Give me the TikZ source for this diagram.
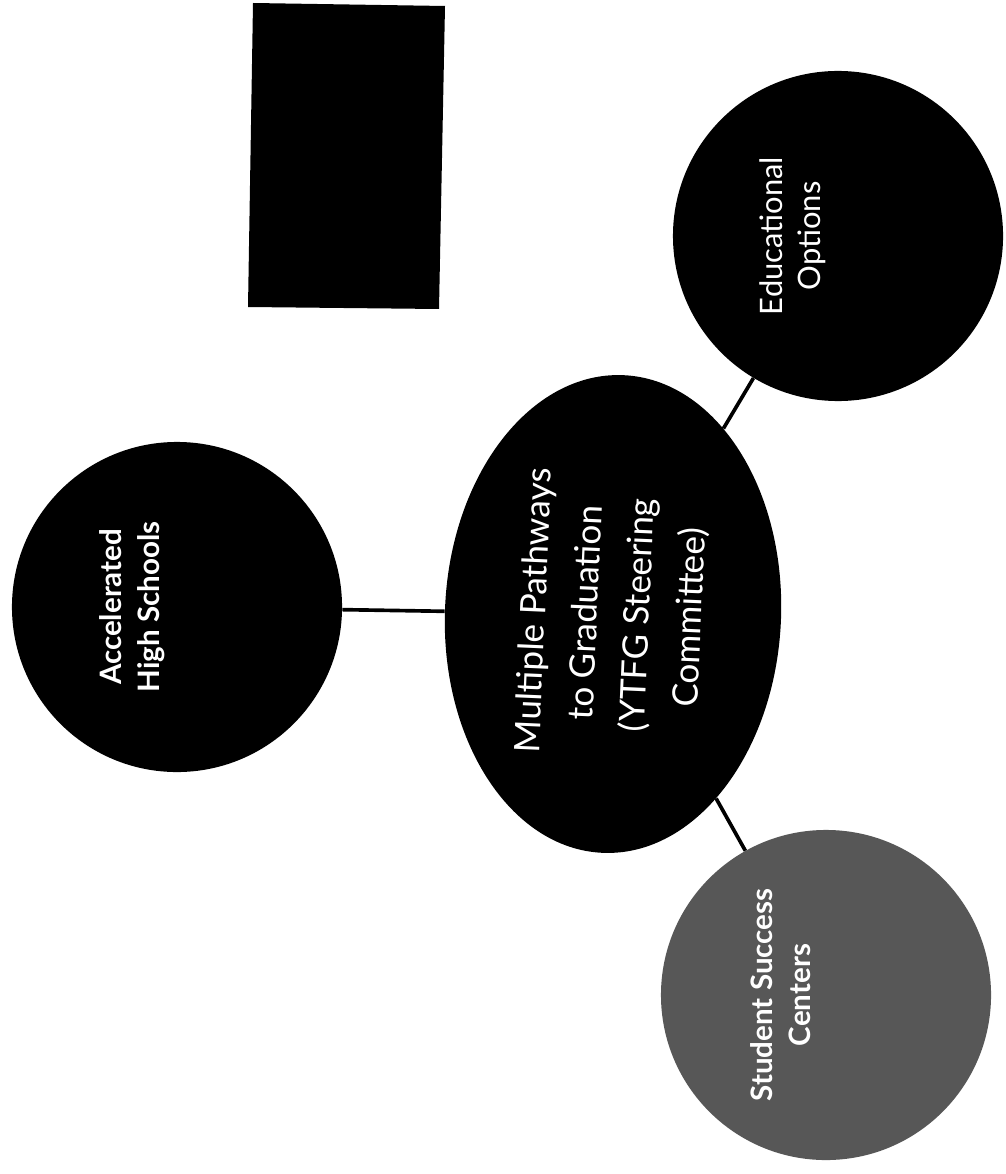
\documentclass[tikz,border=0pt]{standalone}
\usepackage{fontspec}
\setmainfont{Lato}
\usetikzlibrary{shapes.geometric,calc}

\begin{document}
\begin{tikzpicture}[x=0.025cm,y=-0.025cm,
    bubble/.style={circle,fill=black,minimum size=8.25cm,inner sep=0pt},
    hub/.style={ellipse,fill=black,minimum width=11.95cm,minimum height=8.4cm,
      inner sep=0pt,rotate=87.5,text=white,align=center,
      font=\fontsize{25}{37}\selectfont},
    blurb/.style={rotate=90,text=white,align=center,
      font=\fontsize{22}{27}\selectfont},
    link/.style={line width=2.6pt}]
  \useasboundingbox (0,0) rectangle (1005,1174);
  % dark box at the top
  \coordinate (R1) at (253,3);
  \coordinate (R2) at (445,6);
  \coordinate (R3) at (439,309);
  \coordinate (R4) at (248,307);
  \fill[black] (R1) -- (R2) -- (R3) -- (R4) -- cycle;
  % bubbles
  \node[bubble] (acc) at (177,607) {};
  \node[bubble] (edu) at (838,236) {};
  \node[bubble,fill=black!66] (ssc) at (826,995) {};
  \node[hub] (mpg) at (613,614) {Multiple Pathways\\to Graduation\\(YTFG Steering\\Committee)};
  \node[blurb,font=\fontsize{21}{27}\selectfont\bfseries] (acctxt) at ($(acc)+(-45,0)$) {Accelerated\\High Schools};
  \node[blurb] (edutxt) at ($(edu)+(-45,0)$) {Educational\\Options};
  \node[blurb,font=\fontsize{21}{27}\selectfont\bfseries] (ssctxt) at ($(ssc)+(-45,0)$) {Student Success\\Centers};
  % links
  \draw[link] (acc) -- (mpg);
  \draw[link] (mpg) -- (edu);
  \draw[link] (mpg) -- (ssc);
\end{tikzpicture}
\end{document}
